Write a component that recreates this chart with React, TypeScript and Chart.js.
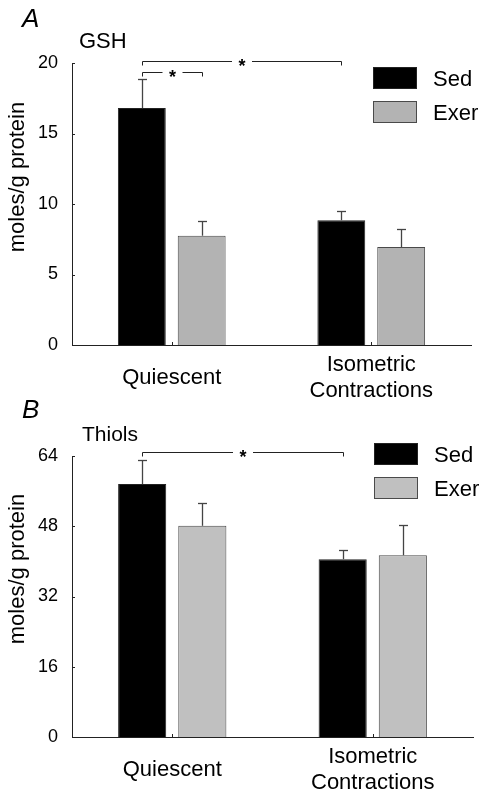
import React, { useEffect, useRef } from "react";
import { Chart, registerables } from "chart.js";

Chart.register(...registerables);

const FONT = "'Liberation Sans', Arial, Helvetica, sans-serif";
Chart.defaults.font.family = FONT;

// ---------- data ----------
const categories: (string | string[])[] = ["Quiescent", ["Isometric", "Contractions"]];
const seriesNames = ["Sed", "Exer"];

const gshSed = [16.8, 8.85];
const gshSedErr = [2.1, 0.65];
const gshExer = [7.75, 6.95];
const gshExerErr = [1.05, 1.25];
const gshTicks = [0, 5, 10, 15, 20];

const thiolSed = [57.6, 40.5];
const thiolSedErr = [5.4, 2.1];
const thiolExer = [48.1, 41.4];
const thiolExerErr = [5.3, 6.8];
const thiolTicks = [0, 16, 32, 48, 64];

// significance brackets: [datasetIndex, categoryIndex] -> [datasetIndex, categoryIndex], at value
const gshBrackets = [
  { from: [0, 0], to: [0, 1], value: 20.15, label: "*" },
  { from: [0, 0], to: [1, 0], value: 19.38, label: "*" },
];
const thiolBrackets = [{ from: [0, 0], to: [0, 1], value: 64.9, label: "*" }];

const SED_COLOR = "#000000";
const SED_BORDER = "#222222";

type PanelCfg = {
  letter: string;
  title: string;
  titleX: number;
  titleY: number;
  titleSize: number;
  letterY: number;
  yTitleY: number;
  height: number;
  top: number;
  bottom: number;
  right: number;
  sed: number[];
  sedErr: number[];
  exer: number[];
  exerErr: number[];
  ticks: number[];
  brackets: { from: number[]; to: number[]; value: number; label: string }[];
  exerColor: string;
  legendX: number;
  legendY: number;
  legendGap: number;
};

const overlay = {
  id: "overlay",
  afterDraw(chart: any, _args: any, opts: any) {
    const ctx: CanvasRenderingContext2D = chart.ctx;
    const { left, bottom } = chart.chartArea;
    const ys = chart.scales.y;
    const xs = chart.scales.x;
    const line = (x1: number, y1: number, x2: number, y2: number) => {
      ctx.beginPath();
      ctx.moveTo(x1, y1);
      ctx.lineTo(x2, y2);
      ctx.stroke();
    };
    ctx.save();
    // inside tick marks
    ctx.strokeStyle = "#222";
    ctx.lineWidth = 1;
    ys.ticks.forEach((t: any) => {
      const py = Math.round(ys.getPixelForValue(t.value)) + 0.5;
      line(left, py, left + 3, py);
    });
    xs.ticks.forEach((_t: any, i: number) => {
      const px = Math.round(xs.getPixelForTick(i)) + 0.5;
      line(px, bottom, px, bottom - 3);
    });

    // error bars (upper only)
    ctx.strokeStyle = "#444";
    ctx.lineWidth = 1.3;
    (opts.errors as number[][]).forEach((errs, di) => {
      const meta = chart.getDatasetMeta(di);
      meta.data.forEach((bar: any, i: number) => {
        const v = chart.data.datasets[di].data[i] as number;
        const yt = Math.round(ys.getPixelForValue(v + errs[i])) + 0.5;
        const bx = Math.round(bar.x) + 0.5;
        line(bx, bar.y, bx, yt);
        line(bx - 4.5, yt, bx + 4.5, yt);
      });
    });

    // significance brackets
    ctx.strokeStyle = "#222";
    ctx.lineWidth = 1;
    ctx.fillStyle = "#000";
    (opts.brackets as any[]).forEach((b) => {
      const x1 = Math.round(chart.getDatasetMeta(b.from[0]).data[b.from[1]].x) + 0.5;
      const x2 = Math.round(chart.getDatasetMeta(b.to[0]).data[b.to[1]].x) + 0.5;
      const y = Math.round(ys.getPixelForValue(b.value)) + 0.5;
      const xm = (x1 + x2) / 2;
      line(x1, y + 4, x1, y);
      line(x1, y, xm - 10, y);
      line(xm + 10, y, x2, y);
      line(x2, y, x2, y + 4);
      ctx.font = `bold 18px ${FONT}`;
      ctx.textAlign = "center";
      ctx.textBaseline = "alphabetic";
      ctx.fillText(b.label, xm, y + 10.5);
    });

    // panel letter
    ctx.fillStyle = "#000";
    ctx.textAlign = "left";
    ctx.textBaseline = "alphabetic";
    ctx.font = `italic 26px ${FONT}`;
    ctx.fillText(opts.letter, 22, opts.letterY);
    // panel title
    ctx.font = `${opts.titleSize}px ${FONT}`;
    ctx.fillText(opts.title, opts.titleX, opts.titleY);

    // y-axis title
    ctx.save();
    ctx.translate(23.5, opts.yTitleY);
    ctx.rotate(-Math.PI / 2);
    ctx.textAlign = "center";
    ctx.font = `22px ${FONT}`;
    ctx.fillText(opts.yTitle, 0, 0);
    ctx.restore();

    // legend
    (opts.legend as any[]).forEach((it, i) => {
      const bx = opts.legendX;
      const by = opts.legendY + i * opts.legendGap;
      ctx.fillStyle = it.fill;
      ctx.fillRect(bx, by, 44, 22);
      ctx.strokeStyle = it.border;
      ctx.lineWidth = 1;
      ctx.strokeRect(bx + 0.5, by + 0.5, 43, 21);
      ctx.fillStyle = "#000";
      ctx.font = `22px ${FONT}`;
      ctx.textAlign = "left";
      ctx.textBaseline = "alphabetic";
      ctx.fillText(it.label, bx + 60, by + 19);
    });
    ctx.restore();
  },
};

function Panel({ cfg }: { cfg: PanelCfg }) {
  const ref = useRef<HTMLCanvasElement>(null);
  useEffect(() => {
    if (!ref.current) return;
    const chart = new Chart(ref.current, {
      type: "bar",
      data: {
        labels: categories as any,
        datasets: [
          {
            label: seriesNames[0],
            data: cfg.sed,
            backgroundColor: SED_COLOR,
            borderColor: SED_BORDER,
            borderWidth: 1,
            categoryPercentage: 0.6,
            barPercentage: 0.8,
          },
          {
            label: seriesNames[1],
            data: cfg.exer,
            backgroundColor: cfg.exerColor,
            borderColor: "#4a4a4a",
            borderWidth: 1,
            categoryPercentage: 0.6,
            barPercentage: 0.8,
          },
        ],
      },
      options: {
        responsive: false,
        animation: false,
        devicePixelRatio: 1,
        layout: { padding: { top: cfg.top, right: cfg.right, left: 0, bottom: 0 } },
        plugins: {
          legend: { display: false },
          title: { display: false },
          tooltip: { enabled: false },
          overlay: {
            errors: [cfg.sedErr, cfg.exerErr],
            brackets: cfg.brackets,
            letter: cfg.letter,
            letterY: cfg.letterY,
            title: cfg.title,
            titleX: cfg.titleX,
            titleY: cfg.titleY,
            titleSize: cfg.titleSize,
            yTitle: "moles/g protein",
            yTitleY: cfg.yTitleY,
            legendX: cfg.legendX,
            legendY: cfg.legendY,
            legendGap: cfg.legendGap,
            legend: [
              { label: seriesNames[0], fill: SED_COLOR, border: SED_BORDER },
              { label: seriesNames[1], fill: cfg.exerColor, border: "#4a4a4a" },
            ],
          },
        } as any,
        scales: {
          x: {
            grid: { display: false, drawTicks: false },
            border: { display: true, color: "#222", width: 1 },
            ticks: {
              color: "#000",
              font: { size: 22, lineHeight: 1.2 },
              padding: 20,
              crossAlign: "center",
              maxRotation: 0,
              autoSkip: false,
            },
            afterFit: (s: any) => {
              s.height = cfg.height - cfg.bottom;
            },
          },
          y: {
            min: cfg.ticks[0],
            max: cfg.ticks[cfg.ticks.length - 1],
            afterBuildTicks: (s: any) => {
              s.ticks = cfg.ticks.map((v) => ({ value: v }));
            },
            grid: { display: false, drawTicks: false },
            border: { display: true, color: "#222", width: 1 },
            ticks: { color: "#000", font: { size: 18 }, padding: 14 },
            afterFit: (s: any) => {
              s.width = 72;
            },
          },
        } as any,
      },
      plugins: [overlay as any],
    });
    return () => chart.destroy();
  }, [cfg]);
  return <canvas ref={ref} width={490} height={cfg.height} style={{ display: "block", width: 490, height: cfg.height }} />;
}

const panelA: PanelCfg = {
  letter: "A",
  letterY: 27,
  title: "GSH",
  titleX: 79,
  titleY: 48,
  titleSize: 22,
  yTitleY: 177,
  height: 400,
  top: 63,
  bottom: 345,
  right: 19,
  sed: gshSed,
  sedErr: gshSedErr,
  exer: gshExer,
  exerErr: gshExerErr,
  ticks: gshTicks,
  brackets: gshBrackets,
  exerColor: "#b3b3b3",
  legendX: 373,
  legendY: 67,
  legendGap: 34,
};

const panelB: PanelCfg = {
  letter: "B",
  letterY: 18,
  title: "Thiols",
  titleX: 82,
  titleY: 41,
  titleSize: 21,
  yTitleY: 169,
  height: 398,
  top: 56,
  bottom: 337,
  right: 17,
  sed: thiolSed,
  sedErr: thiolSedErr,
  exer: thiolExer,
  exerErr: thiolExerErr,
  ticks: thiolTicks,
  brackets: thiolBrackets,
  exerColor: "#c0c0c0",
  legendX: 374,
  legendY: 43,
  legendGap: 34,
};

export default function App() {
  return (
    <div style={{ position: "absolute", left: 0, top: 0, width: 490, height: 798, background: "#fff" }}>
      <Panel cfg={panelA} />
      <Panel cfg={panelB} />
    </div>
  );
}
